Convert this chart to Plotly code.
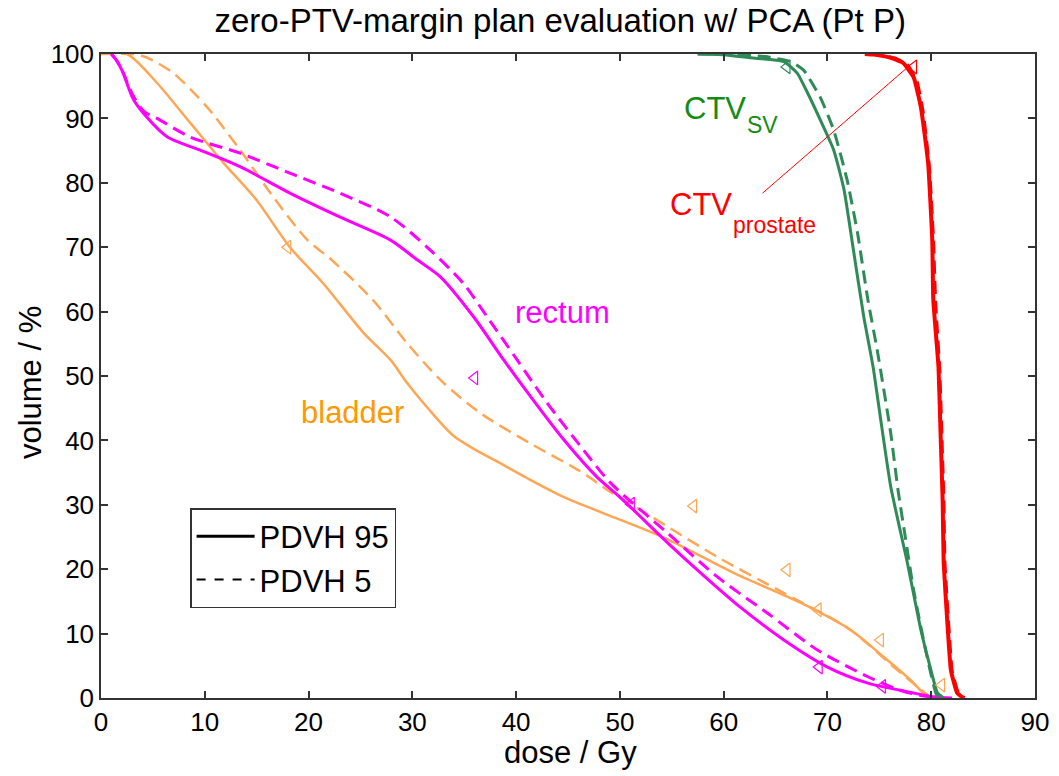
import plotly.graph_objects as go

# ---------------- data ----------------
rectum95_x = [1, 1.5, 2.1, 3.1, 4.4, 6.4, 9.5, 13.4, 18.2, 23, 27.9, 30.5, 32.7, 35.9, 38.8, 41.4, 44.6, 47.8, 50, 54.6, 57.8, 61.6, 65.8, 70, 73.9, 77, 80.2, 82]
rectum95_y = [100, 99, 97.2, 93, 90.2, 87.1, 85.1, 82.5, 78.4, 74.7, 71.1, 68, 65.4, 59.2, 52.5, 46.8, 40.1, 34.3, 31.2, 24.1, 19.4, 14.1, 9.0, 4.8, 2.3, 1.2, 0.2, 0]
rectum5_x = [1, 1.5, 2.1, 3.1, 4.2, 5.4, 8.6, 13.4, 18.2, 23, 27.9, 31.7, 34.9, 37.2, 40.1, 43, 46.5, 49.1, 54.6, 59.4, 64.2, 69, 73.9, 77, 79, 81]
rectum5_y = [100, 99, 97.2, 93.5, 91, 90, 87.1, 84.6, 81.5, 78.4, 74.7, 69.6, 64.4, 59.2, 52.5, 45.8, 38.5, 33.4, 25.6, 18.8, 13.2, 7.5, 3.3, 1.2, 0.4, 0]

bladder95_x = [0, 2.5, 5.4, 8.6, 11.8, 15, 18.2, 21.4, 25.3, 27.9, 29.5, 31.5, 33.9, 36, 38.2, 41, 44.6, 48.1, 54.4, 61, 67.4, 72.2, 75.4, 78, 79.6, 80]
bladder95_y = [100, 100, 95.5, 89.3, 83.1, 77.3, 70, 64.4, 56.7, 52.5, 48.9, 45, 40.8, 38.6, 36.7, 34.2, 31.2, 28.9, 24.8, 19.4, 14.8, 10.6, 6.4, 2.8, 0.2, 0]
bladder5_x = [0, 3, 4, 5, 7, 10.2, 13.4, 16.6, 19.9, 22.1, 26.2, 29.5, 32.7, 36.5, 41.4, 46.2, 48.8, 52, 54.6, 59.4, 65.8, 72.2, 76.4, 78.7, 80]
bladder5_y = [100, 100, 99.7, 99, 97, 91.8, 85.1, 77.8, 71.1, 68.2, 61.8, 55.1, 49.4, 44.3, 39.5, 35.2, 32.3, 29.2, 26.6, 21.9, 16.3, 10.6, 4.8, 1.7, 0]

ctvsv95_x = [57.5, 60, 62.6, 65.8, 67.1, 68.1, 69.3, 70.6, 71.6, 72.5, 73.5, 74.4, 75.1, 76.1, 77.7, 79, 79.9, 80.6, 81.2]
ctvsv95_y = [100, 99.9, 99.4, 98.8, 97, 93.9, 89.8, 85.1, 78.9, 69.6, 59.2, 51.4, 43.6, 32.8, 21, 10.6, 4.8, 0.8, 0]
ctvsv5_x = [57.5, 60, 64, 66.5, 67.7, 69.3, 70.6, 71.9, 72.9, 73.9, 74.8, 76.1, 76.8, 77.5, 78.3, 79.6, 80.6, 81.2]
ctvsv5_y = [100, 100, 99.6, 98.8, 97.5, 93.3, 88.2, 80.4, 72.2, 61.8, 54, 41.1, 32.3, 25, 16.8, 6.4, 0.2, 0]

ctvp95_x = [73.6, 74.5, 76.1, 77.3, 78.3, 79, 79.7, 80.1, 80.2, 80.7, 80.9, 81.1, 81.2, 81.6, 81.9, 82.5, 83.1]
ctvp95_y = [100, 99.9, 99.4, 98.6, 96.4, 91.8, 83.1, 71.1, 61.8, 51.4, 41.1, 30.7, 21, 10.6, 4.3, 0.8, 0]
ctvp5_x = [74, 75, 76.6, 77.7, 78.6, 79.2, 79.8, 80.2, 80.4, 80.8, 81, 81.2, 81.3, 81.7, 82, 82.6, 83.2]
ctvp5_y = [100, 99.9, 99.3, 98.3, 95.8, 91, 82.5, 71, 61.5, 51, 41, 30.5, 21, 10.5, 4.2, 0.8, 0]

bladder_tri_x = [18, 57.1, 66.1, 69.1, 75.1, 81]
bladder_tri_y = [70, 29.8, 19.9, 13.7, 9, 2]
rectum_tri_x = [36, 51.1, 69.2, 75.3]
rectum_tri_y = [49.7, 30.1, 4.8, 1.8]
ctvsv_tri_x = [66.1]
ctvsv_tri_y = [98]
ctvp_tri_x = [78.3]
ctvp_tri_y = [98]

pointer_x = [63.75, 77.7]
pointer_y = [78.4, 97.9]

legend_labels = ["PDVH 95", "PDVH 5"]

# ---------------- style ----------------
MAG = "#FF00FF"
ORA = "#FFA655"
GRN = "#2E8B57"
RED = "#FF0000"
DASH = "13px,7px"
FONT = "Liberation Sans, Arial, Helvetica, sans-serif"

fig = go.Figure()

def curve(x, y, color, width, dash=None, smooth=0.8):
    fig.add_trace(go.Scatter(x=x, y=y, mode="lines", showlegend=False, hoverinfo="skip",
                             line=dict(color=color, width=width, dash=dash if dash else "solid",
                                       shape="spline", smoothing=smooth)))

curve(bladder95_x, bladder95_y, ORA, 2.5)
curve(bladder5_x, bladder5_y, ORA, 2.5, DASH)
curve(rectum95_x, rectum95_y, MAG, 3)
curve(rectum5_x, rectum5_y, MAG, 3, DASH)
curve(ctvsv95_x, ctvsv95_y, GRN, 3, None, 0.5)
curve(ctvsv5_x, ctvsv5_y, GRN, 3, DASH, 0.5)
curve(ctvp95_x, ctvp95_y, RED, 4, None, 0.4)
curve(ctvp5_x, ctvp5_y, RED, 3.5, DASH, 0.4)

def tris(x, y, color):
    fig.add_trace(go.Scatter(x=x, y=y, mode="markers", showlegend=False, hoverinfo="skip",
                             marker=dict(symbol="triangle-left-open", size=12, color=color,
                                         line=dict(color=color, width=1.2))))

tris(bladder_tri_x, bladder_tri_y, ORA)
tris(rectum_tri_x, rectum_tri_y, MAG)
tris(ctvsv_tri_x, ctvsv_tri_y, GRN)
tris(ctvp_tri_x, ctvp_tri_y, RED)

# pointer line for CTV prostate label
fig.add_trace(go.Scatter(x=pointer_x, y=pointer_y, mode="lines", showlegend=False, hoverinfo="skip",
                         line=dict(color=RED, width=1)))

# legend entries
fig.add_trace(go.Scatter(x=[None], y=[None], mode="lines", name=legend_labels[0],
                         line=dict(color="black", width=3)))
fig.add_trace(go.Scatter(x=[None], y=[None], mode="lines", name=legend_labels[1],
                         line=dict(color="black", width=2, dash="dash")))

BIG = 31
SUB = 23
def label(x, y, text, color, size, anchor="left"):
    fig.add_annotation(x=x, y=y, text=text, showarrow=False, xanchor=anchor, yanchor="middle",
                       font=dict(family=FONT, size=size, color=color))

# CTV_SV
label(56.0, 91.6, "CTV", "#148C14", BIG)
label(62.1, 89.0, "SV", "#148C14", SUB)
# CTV_prostate
label(54.6, 76.6, "CTV", RED, BIG)
label(60.7, 73.5, "prostate", RED, SUB)
label(44.5, 59.8, "rectum", MAG, BIG, "center")
label(24.2, 44.4, "bladder", "#FF9900", BIG, "center")

# axis titles
fig.add_annotation(x=0.503, y=-0.084, xref="paper", yref="paper", text="dose / Gy", showarrow=False,
                   xanchor="center", yanchor="middle", font=dict(family=FONT, size=31, color="black"))
fig.add_annotation(x=-0.076, y=0.489, xref="paper", yref="paper", text="volume / %", showarrow=False,
                   textangle=-90, xanchor="center", yanchor="middle",
                   font=dict(family=FONT, size=31, color="black"))

axis_common = dict(showline=True, linecolor="#333333", linewidth=1.5, mirror="allticks",
                   ticks="inside", ticklen=7, tickcolor="#333333", tickwidth=1.5,
                   showgrid=False, zeroline=False, automargin=False,
                   tickfont=dict(family=FONT, size=26, color="black"))

fig.update_layout(
    width=1059, height=776,
    margin=dict(l=101, r=24, t=54, b=78, autoexpand=False),
    paper_bgcolor="white", plot_bgcolor="white",
    title=dict(text="zero-PTV-margin plan evaluation w/ PCA (Pt P)", x=0.529, xanchor="center",
               xref="container", y=0.974, yanchor="middle", automargin=False,
               font=dict(family=FONT, size=33, color="black")),
    xaxis=dict(axis_common, range=[0, 90], dtick=10, tick0=0),
    yaxis=dict(axis_common, range=[0, 100], dtick=10, tick0=0),
    legend=dict(x=0.0954, y=0.295, xanchor="left", yanchor="top", bgcolor="white",
                bordercolor="#333333", borderwidth=1.5, font=dict(family=FONT, size=31, color="black"),
                itemwidth=58, tracegroupgap=0),
    showlegend=True,
)

fig.write_html("out.html", config={"displayModeBar": False},
               post_script="document.body.style.margin='0';")
